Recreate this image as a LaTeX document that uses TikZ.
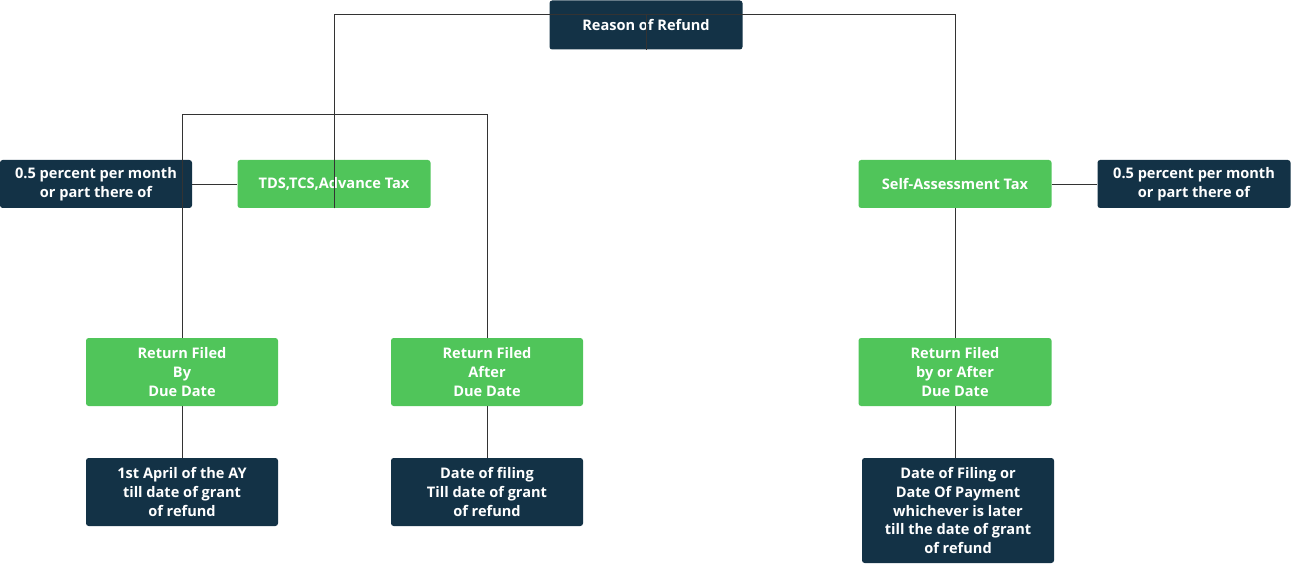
\documentclass[tikz,border=0pt]{standalone}
\usepackage{fontspec}
\setmainfont{Open Sans}
\definecolor{dk}{HTML}{133246}
\definecolor{gr}{HTML}{50C55A}
\definecolor{ln}{HTML}{333333}
\begin{document}
\begin{tikzpicture}[x=0.02cm,y=-0.02cm,
  box/.style={rounded corners=1.5pt,text=white,font=\fontsize{8.3}{10.8}\selectfont\bfseries,align=center,inner sep=0pt,anchor=center},
  dbox/.style={box,fill=dk},
  gbox/.style={box,fill=gr},
  conn/.style={draw=ln,line width=0.5pt}]
\useasboundingbox (0,0) rectangle (1291,564);
\node[dbox,minimum width=193*0.02cm,minimum height=49*0.02cm] (r) at (646,25) {Reason of Refund};
\node[gbox,minimum width=193*0.02cm,minimum height=48*0.02cm] (t) at (334,184) {TDS,TCS,Advance Tax};
\node[gbox,minimum width=193*0.02cm,minimum height=48*0.02cm] (s) at (955,184) {Self-Assessment Tax};
\node[dbox,minimum width=192*0.02cm,minimum height=48*0.02cm] (l) at (96,184) {0.5 percent per month\\or part there of};
\node[dbox,minimum width=193*0.02cm,minimum height=48*0.02cm] (rr) at (1194,184) {0.5 percent per month\\or part there of};
\node[gbox,minimum width=192*0.02cm,minimum height=68*0.02cm] (a) at (182,372) {Return Filed\\By\\Due Date};
\node[gbox,minimum width=192*0.02cm,minimum height=68*0.02cm] (b) at (487,372) {Return Filed\\After\\Due Date};
\node[gbox,minimum width=193*0.02cm,minimum height=68*0.02cm] (c) at (955,372) {Return Filed\\by or After\\Due Date};
\node[dbox,minimum width=192*0.02cm,minimum height=68*0.02cm] (d1) at (182,492) {1st April of the AY\\till date of grant\\of refund};
\node[dbox,minimum width=192*0.02cm,minimum height=68*0.02cm] (d2) at (487,492) {Date of filing\\Till date of grant\\of refund};
\node[dbox,minimum width=192*0.02cm,minimum height=105*0.02cm] (d3) at (958,510.5) {Date of Filing or\\Date Of Payment\\whichever is later\\till the date of grant\\of refund};
\draw[conn] (r.south) -- ++(0,-35) -| (t.north);
\draw[conn] (r.south) -- ++(0,-35) -| (s.north);
\draw[conn] (t.south) -- ++(0,-94) -| (a.north);
\draw[conn] (t.south) -- ++(0,-94) -| (b.north);
\draw[conn] (l.east) -- (t.west);
\draw[conn] (s.east) -- (rr.west);
\draw[conn] (s.south) -- (c.north);
\draw[conn] (a.south) -- (d1.north);
\draw[conn] (b.south) -- (d2.north);
\draw[conn] (c.south) -- (c.south|-d3.north);
\end{tikzpicture}
\end{document}
